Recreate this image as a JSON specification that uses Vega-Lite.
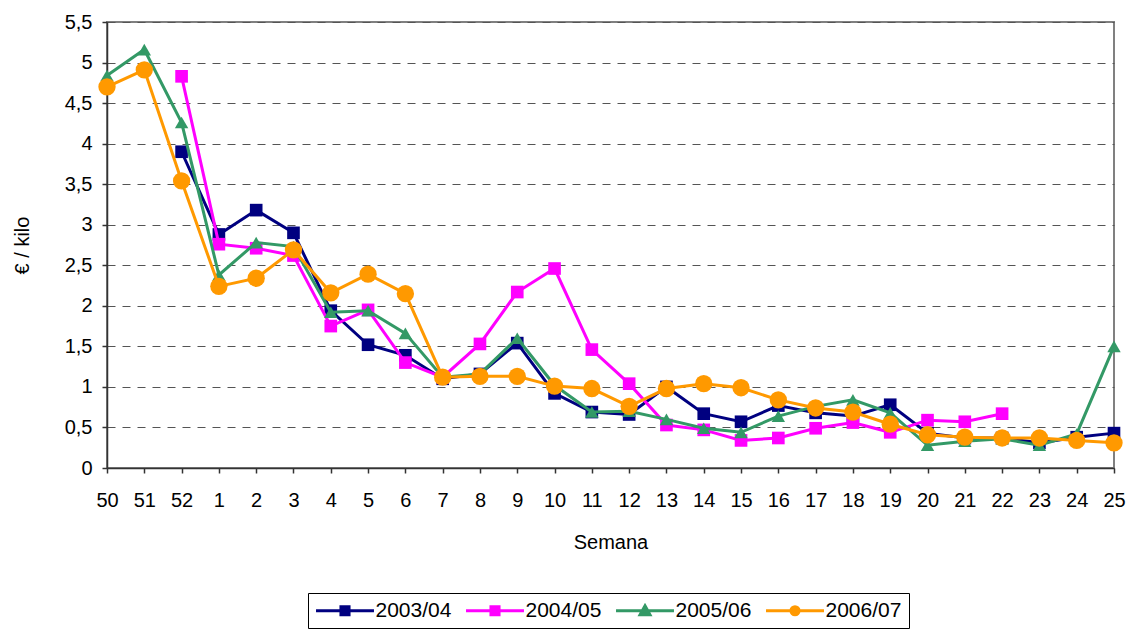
{
  "$schema": "https://vega.github.io/schema/vega-lite/v6.json",
  "width": 1007,
  "height": 446,
  "autosize": {"type": "none"},
  "padding": {"left": 107, "top": 22, "right": 17, "bottom": 164},
  "background": "white",
  "config": {
    "font": "Liberation Sans",
    "view": {"stroke": "#808080", "strokeWidth": 2},
    "axis": {"labelFontSize": 20, "labelColor": "black", "titleFontSize": 20, "titleFontWeight": "normal", "titleColor": "black", "domainColor": "#333333", "domainWidth": 1.5, "tickColor": "#333333", "tickSize": 5, "tickWidth": 1.5, "labelFont": "Liberation Sans", "titleFont": "Liberation Sans"},
    "legend": {"labelFontSize": 21, "labelColor": "black", "labelFont": "Liberation Sans", "direction": "horizontal", "strokeColor": "black", "padding": 7, "symbolSize": 324, "symbolStrokeWidth": 3, "labelOffset": 20, "symbolOffset": 19.5, "columnPadding": 8, "title": null}
  },
  "datasets": {
    "d": [
      {"s": "2003/04", "w": "52", "v": 3.9},
      {"s": "2003/04", "w": "1", "v": 2.88},
      {"s": "2003/04", "w": "2", "v": 3.18},
      {"s": "2003/04", "w": "3", "v": 2.9},
      {"s": "2003/04", "w": "4", "v": 1.94},
      {"s": "2003/04", "w": "5", "v": 1.52},
      {"s": "2003/04", "w": "6", "v": 1.39},
      {"s": "2003/04", "w": "7", "v": 1.1},
      {"s": "2003/04", "w": "8", "v": 1.16},
      {"s": "2003/04", "w": "9", "v": 1.54},
      {"s": "2003/04", "w": "10", "v": 0.92},
      {"s": "2003/04", "w": "11", "v": 0.69},
      {"s": "2003/04", "w": "12", "v": 0.66},
      {"s": "2003/04", "w": "13", "v": 1.0},
      {"s": "2003/04", "w": "14", "v": 0.67},
      {"s": "2003/04", "w": "15", "v": 0.57},
      {"s": "2003/04", "w": "16", "v": 0.77},
      {"s": "2003/04", "w": "17", "v": 0.68},
      {"s": "2003/04", "w": "18", "v": 0.64},
      {"s": "2003/04", "w": "19", "v": 0.78},
      {"s": "2003/04", "w": "20", "v": 0.43},
      {"s": "2003/04", "w": "21", "v": 0.37},
      {"s": "2003/04", "w": "22", "v": 0.37},
      {"s": "2003/04", "w": "23", "v": 0.31},
      {"s": "2003/04", "w": "24", "v": 0.38},
      {"s": "2003/04", "w": "25", "v": 0.43},
      {"s": "2004/05", "w": "52", "v": 4.83},
      {"s": "2004/05", "w": "1", "v": 2.76},
      {"s": "2004/05", "w": "2", "v": 2.71},
      {"s": "2004/05", "w": "3", "v": 2.62},
      {"s": "2004/05", "w": "4", "v": 1.75},
      {"s": "2004/05", "w": "5", "v": 1.95},
      {"s": "2004/05", "w": "6", "v": 1.3},
      {"s": "2004/05", "w": "7", "v": 1.12},
      {"s": "2004/05", "w": "8", "v": 1.53},
      {"s": "2004/05", "w": "9", "v": 2.17},
      {"s": "2004/05", "w": "10", "v": 2.46},
      {"s": "2004/05", "w": "11", "v": 1.46},
      {"s": "2004/05", "w": "12", "v": 1.04},
      {"s": "2004/05", "w": "13", "v": 0.53},
      {"s": "2004/05", "w": "14", "v": 0.47},
      {"s": "2004/05", "w": "15", "v": 0.34},
      {"s": "2004/05", "w": "16", "v": 0.37},
      {"s": "2004/05", "w": "17", "v": 0.49},
      {"s": "2004/05", "w": "18", "v": 0.56},
      {"s": "2004/05", "w": "19", "v": 0.44},
      {"s": "2004/05", "w": "20", "v": 0.59},
      {"s": "2004/05", "w": "21", "v": 0.57},
      {"s": "2004/05", "w": "22", "v": 0.67},
      {"s": "2005/06", "w": "50", "v": 4.84},
      {"s": "2005/06", "w": "51", "v": 5.16},
      {"s": "2005/06", "w": "52", "v": 4.26},
      {"s": "2005/06", "w": "1", "v": 2.38},
      {"s": "2005/06", "w": "2", "v": 2.78},
      {"s": "2005/06", "w": "3", "v": 2.73},
      {"s": "2005/06", "w": "4", "v": 1.92},
      {"s": "2005/06", "w": "5", "v": 1.94},
      {"s": "2005/06", "w": "6", "v": 1.66},
      {"s": "2005/06", "w": "7", "v": 1.12},
      {"s": "2005/06", "w": "8", "v": 1.16},
      {"s": "2005/06", "w": "9", "v": 1.6},
      {"s": "2005/06", "w": "10", "v": 1.02},
      {"s": "2005/06", "w": "11", "v": 0.69},
      {"s": "2005/06", "w": "12", "v": 0.7},
      {"s": "2005/06", "w": "13", "v": 0.6},
      {"s": "2005/06", "w": "14", "v": 0.49},
      {"s": "2005/06", "w": "15", "v": 0.44},
      {"s": "2005/06", "w": "16", "v": 0.64},
      {"s": "2005/06", "w": "17", "v": 0.76},
      {"s": "2005/06", "w": "18", "v": 0.84},
      {"s": "2005/06", "w": "19", "v": 0.68},
      {"s": "2005/06", "w": "20", "v": 0.28},
      {"s": "2005/06", "w": "21", "v": 0.33},
      {"s": "2005/06", "w": "22", "v": 0.36},
      {"s": "2005/06", "w": "23", "v": 0.28},
      {"s": "2005/06", "w": "24", "v": 0.42},
      {"s": "2005/06", "w": "25", "v": 1.5},
      {"s": "2006/07", "w": "50", "v": 4.7},
      {"s": "2006/07", "w": "51", "v": 4.91},
      {"s": "2006/07", "w": "52", "v": 3.54},
      {"s": "2006/07", "w": "1", "v": 2.24},
      {"s": "2006/07", "w": "2", "v": 2.34},
      {"s": "2006/07", "w": "3", "v": 2.69},
      {"s": "2006/07", "w": "4", "v": 2.16},
      {"s": "2006/07", "w": "5", "v": 2.39},
      {"s": "2006/07", "w": "6", "v": 2.15},
      {"s": "2006/07", "w": "7", "v": 1.12},
      {"s": "2006/07", "w": "8", "v": 1.13},
      {"s": "2006/07", "w": "9", "v": 1.13},
      {"s": "2006/07", "w": "10", "v": 1.01},
      {"s": "2006/07", "w": "11", "v": 0.98},
      {"s": "2006/07", "w": "12", "v": 0.76},
      {"s": "2006/07", "w": "13", "v": 0.98},
      {"s": "2006/07", "w": "14", "v": 1.04},
      {"s": "2006/07", "w": "15", "v": 0.99},
      {"s": "2006/07", "w": "16", "v": 0.84},
      {"s": "2006/07", "w": "17", "v": 0.74},
      {"s": "2006/07", "w": "18", "v": 0.69},
      {"s": "2006/07", "w": "19", "v": 0.54},
      {"s": "2006/07", "w": "20", "v": 0.41},
      {"s": "2006/07", "w": "21", "v": 0.38},
      {"s": "2006/07", "w": "22", "v": 0.37},
      {"s": "2006/07", "w": "23", "v": 0.37},
      {"s": "2006/07", "w": "24", "v": 0.34},
      {"s": "2006/07", "w": "25", "v": 0.31}
    ]
  },
  "data": {"name": "d"},
  "encoding": {
    "x": {
      "field": "w", "type": "ordinal", "title": "Semana",
      "scale": {"type": "point", "padding": 0, "domain": ["50","51","52","1","2","3","4","5","6","7","8","9","10","11","12","13","14","15","16","17","18","19","20","21","22","23","24","25"]},
      "axis": {"labelAngle": 0, "labelPadding": 17, "titlePadding": 22, "grid": false}
    },
    "y": {
      "field": "v", "type": "quantitative", "title": "€ / kilo",
      "scale": {"domain": [0, 5.5], "nice": false, "zero": true},
      "axis": {"values": [0,0.5,1,1.5,2,2.5,3,3.5,4,4.5,5,5.5], "labelExpr": "replace(format(datum.value, '.1~f'), '.', ',')", "labelPadding": 10, "titlePadding": 32, "grid": true, "gridColor": "#555555", "gridDash": [8, 7], "gridWidth": 1}
    }
  },
  "layer": [
    {"transform": [{"filter": "datum.s === '2003/04'"}], "mark": {"type": "line", "strokeWidth": 3, "color": "#000080"}},
    {"transform": [{"filter": "datum.s === '2003/04'"}], "mark": {"type": "point", "shape": "square", "filled": true, "opacity": 1, "size": 160, "color": "#000080"}},
    {"transform": [{"filter": "datum.s === '2004/05'"}], "mark": {"type": "line", "strokeWidth": 3, "color": "#FF00FF"}},
    {"transform": [{"filter": "datum.s === '2004/05'"}], "mark": {"type": "point", "shape": "square", "filled": true, "opacity": 1, "size": 160, "color": "#FF00FF"}},
    {"transform": [{"filter": "datum.s === '2005/06'"}], "mark": {"type": "line", "strokeWidth": 3, "color": "#339966"}},
    {"transform": [{"filter": "datum.s === '2005/06'"}], "mark": {"type": "point", "shape": "triangle-up", "filled": true, "opacity": 1, "size": 180, "color": "#339966"}},
    {"transform": [{"filter": "datum.s === '2006/07'"}], "mark": {"type": "line", "strokeWidth": 3, "color": "#FF9900"}},
    {"transform": [{"filter": "datum.s === '2006/07'"}], "mark": {"type": "point", "shape": "circle", "filled": true, "opacity": 1, "size": 300, "color": "#FF9900"}},
    {
      "transform": [{"filter": "datum.v < 0"}],
      "mark": {"type": "point", "opacity": 1, "size": 324, "strokeWidth": 3},
      "encoding": {
        "fill": {
          "field": "s", "type": "nominal",
          "scale": {"domain": ["2003/04","2004/05","2005/06","2006/07"], "range": ["#000080","#FF00FF","#339966","#FF9900"]},
          "legend": {"orient": "none", "legendX": 201, "legendY": 571, "direction": "horizontal", "title": null}
        },
        "stroke": {
          "field": "s", "type": "nominal",
          "scale": {"domain": ["2003/04","2004/05","2005/06","2006/07"], "range": ["#000080","#FF00FF","#339966","#FF9900"]},
          "legend": {"orient": "none", "legendX": 201, "legendY": 571, "direction": "horizontal", "title": null}
        },
        "shape": {
          "field": "s", "type": "nominal",
          "scale": {"domain": ["2003/04","2004/05","2005/06","2006/07"], "range": ["M-3.22,0H3.22M-0.45,-0.45H0.45V0.45H-0.45Z", "M-3.22,0H3.22M-0.45,-0.45H0.45V0.45H-0.45Z", "M-3.22,0H3.22M0,-0.55L0.55,0.45H-0.55Z", "M-3.22,0H3.22M0.45,0A0.45,0.45 0 1,1 -0.45,0A0.45,0.45 0 1,1 0.45,0Z"]},
          "legend": {"orient": "none", "legendX": 201, "legendY": 571, "direction": "horizontal", "title": null}
        }
      }
    }
  ]
}
